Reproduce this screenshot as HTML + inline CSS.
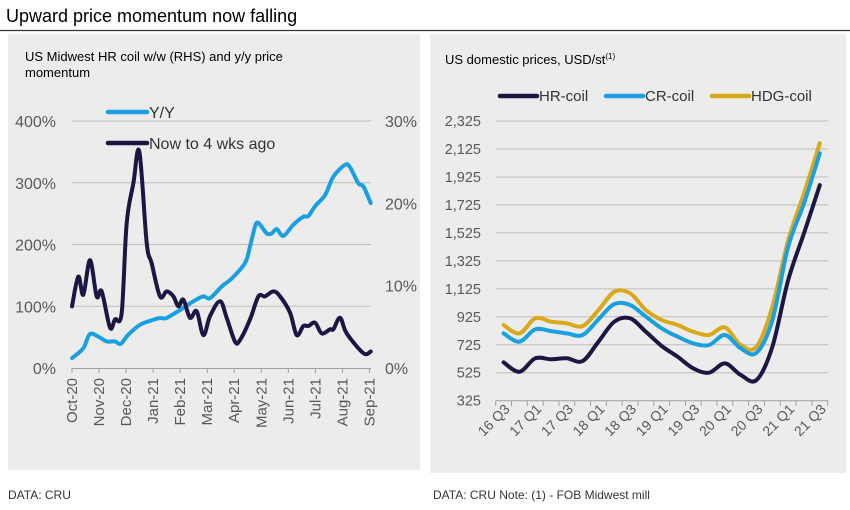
<!DOCTYPE html>
<html><head><meta charset="utf-8"><style>
body{margin:0;width:850px;height:510px;background:#fff;font-family:"Liberation Sans",sans-serif;overflow:hidden}
svg{position:absolute;left:0;top:0}
</style></head><body>
<svg width="850" height="510" id="svg">
<text x="6" y="22" font-size="18" fill="#000">Upward price momentum now falling</text>
<line x1="0" y1="30.5" x2="850" y2="30.5" stroke="#333" stroke-width="1.2"/>
<rect x="8" y="34" width="412" height="436" fill="#ececec"/>
<rect x="430" y="34" width="416" height="439" fill="#ececec"/>
<text x="25" y="61" font-size="13"><tspan x="25">US Midwest HR coil w/w (RHS) and y/y price</tspan><tspan x="25" dy="16">momentum</tspan></text>
<text x="445" y="64" font-size="13">US domestic prices, USD/st<tspan font-size="8" dy="-5">(1)</tspan></text>
<text x="8" y="499" font-size="12" fill="#333">DATA: CRU</text>
<text x="433" y="499" font-size="12" fill="#333">DATA: CRU  Note: (1) - FOB Midwest mill</text>
<g id="left"></g><g id="right"></g>
</svg>
<script>
// Left chart data (month index: 0=Oct-20 ... 11=Sep-21)
const monthLabels=["Oct-20","Nov-20","Dec-20","Jan-21","Feb-21","Mar-21","Apr-21","May-21","Jun-21","Jul-21","Aug-21","Sep-21"];
const leftTicks=[0,100,200,300,400];
const rightTicks=[0,10,20,30];
const yyX=[216,250,270,300,320,345,362,385,420,460,480,500,540,580,610,630,665,695,735,750,765,775,800,815,830,850,880,910,925,945,975,1000,1035,1050,1075,1090,1112].map(z=>(z-216)/81.1);
const yyVals=[16,32,55,49,43,43,39,54,70,78,81,81,94,108,116,113,132,145,170,197,229,235,218,218,225,214,232,245,246,262,280,310,329,325,299,294,267];
const wwX=[216,235,250,270,290,305,330,345,365,380,400,418,440,455,480,500,520,535,550,570,590,610,630,660,680,705,720,750,775,795,820,840,870,890,910,925,945,965,990,1000,1020,1040,1090,1112].map(z=>(z-216)/81.1);
const wwVals=[7.5,11.1,8.9,13.1,8.7,9.3,4.9,5.9,6.7,17.6,22.4,26.3,15.2,12.7,8.7,9.3,8.7,7.5,8.3,6.1,6.9,4.0,6.3,8.1,6.1,3.2,3.4,5.9,8.7,8.7,9.3,8.7,6.7,4.0,5.1,5.1,5.5,4.2,4.7,4.7,6.1,4.2,1.8,2.0];
// Right chart data
const quarters=["16 Q3","16 Q4","17 Q1","17 Q2","17 Q3","17 Q4","18 Q1","18 Q2","18 Q3","18 Q4","19 Q1","19 Q2","19 Q3","19 Q4","20 Q1","20 Q2","20 Q3","20 Q4","21 Q1","21 Q2","21 Q3"];
const priceTicks=[325,525,725,925,1125,1325,1525,1725,1925,2125,2325];
const hrVals=[599,532,628,621,628,609,747,890,914,818,716,640,556,525,592,509,473,711,1188,1522,1867];
const crVals=[806,747,835,823,806,795,907,1016,1009,926,842,783,735,723,795,699,668,902,1426,1736,2094];
const hdgVals=[866,806,914,890,878,859,973,1104,1093,973,902,866,818,795,849,723,711,997,1473,1807,2166];

const NS="http://www.w3.org/2000/svg";
function mk(parent,tag,attrs,text){const e=document.createElementNS(NS,tag);for(const k in attrs)e.setAttribute(k,attrs[k]);if(text!==undefined)e.textContent=text;parent.appendChild(e);return e;}
function smooth(pts){let d="M"+pts[0][0].toFixed(1)+","+pts[0][1].toFixed(1);for(let i=0;i<pts.length-1;i++){const p0=pts[i-1]||pts[i],p1=pts[i],p2=pts[i+1],p3=pts[i+2]||p2;const c1=[p1[0]+(p2[0]-p0[0])/6,p1[1]+(p2[1]-p0[1])/6],c2=[p2[0]-(p3[0]-p1[0])/6,p2[1]-(p3[1]-p1[1])/6];d+=`C${c1[0].toFixed(1)},${c1[1].toFixed(1)} ${c2[0].toFixed(1)},${c2[1].toFixed(1)} ${p2[0].toFixed(1)},${p2[1].toFixed(1)}`;}return d;}

// LEFT
const L=document.getElementById('left');
const lx=m=>72+m*27.04, ly=v=>368-v*0.6175, ry=v=>368-v*(247/30);
leftTicks.forEach(t=>{
 if(t>0){const g=mk(L,'line',{x1:72,x2:371,y1:ly(t),y2:ly(t),stroke:'#bdbdbd','stroke-width':1});
 
 }
 const tx=mk(L,'text',{x:56,y:ly(t)+6,'text-anchor':'end','font-size':16,fill:'#595959'},t+'%');
 
 
});
rightTicks.forEach(t=>{const tx=mk(L,'text',{x:385,y:ry(t)+6,'font-size':16,fill:'#595959'},t+'%');
 
 });
const ax=mk(L,'line',{x1:72,x2:371,y1:368.5,y2:368.5,stroke:'#a0a0a0','stroke-width':1});


monthLabels.forEach((m,i)=>{
 const tk=mk(L,'line',{x1:lx(i),x2:lx(i),y1:368,y2:373,stroke:'#a0a0a0'});
 
 
 const tx=mk(L,'text',{x:0,y:0,'text-anchor':'end','font-size':15,fill:'#595959',transform:`translate(${lx(i)+5},378) rotate(-90)`},m);
 
 
});
const p1=mk(L,'path',{d:smooth(yyX.map((m,i)=>[lx(m),ly(yyVals[i])])),fill:'none',stroke:'#1aa0e0','stroke-width':4,'stroke-linejoin':'round','stroke-linecap':'round'});


const p2=mk(L,'path',{d:smooth(wwX.map((m,i)=>[lx(m),ry(wwVals[i])])),fill:'none',stroke:'#1b1743','stroke-width':4,'stroke-linejoin':'round','stroke-linecap':'round'});


[["Y/Y","#1aa0e0",112],["Now to 4 wks ago","#1b1743",143]].forEach(([n,c,y])=>{
 const l=mk(L,'line',{x1:108,x2:147,y1:y,y2:y,stroke:c,'stroke-width':4.5,'stroke-linecap':'round'});
 
 
 const t=mk(L,'text',{x:149,y:y+6,'font-size':16,fill:'#333'},n);
 
 
});

// RIGHT
const R=document.getElementById('right');
const qx=i=>495.7+(i+0.5)*15.81, py=v=>400.7-(v-325)*(279.7/2000);
priceTicks.forEach(t=>{
 const g=mk(R,'line',{x1:495.7,x2:828,y1:py(t),y2:py(t),stroke:t==325?'#a0a0a0':'#bdbdbd','stroke-width':1});
 
 
 const tx=mk(R,'text',{x:481,y:py(t)+5,'text-anchor':'end','font-size':14.5,fill:'#595959'},t.toLocaleString('en-US'));
 
 
});
for(let i=0;i<=quarters.length;i++){const tk=mk(R,'line',{x1:495.7+i*15.81,x2:495.7+i*15.81,y1:400.7,y2:406,stroke:'#a0a0a0'});
 
 }
quarters.forEach((q,i)=>{if(i%2)return;
 const tx=mk(R,'text',{x:0,y:0,'text-anchor':'end','font-size':14,fill:'#595959',transform:`translate(${qx(i)+7},410) rotate(-45)`},q);
 
 });
[[hdgVals,'#d9a81b','hdg-line'],[crVals,'#1aa0e0','cr-line'],[hrVals,'#1b1743','hr-line']].forEach(([vals,c,n])=>{
 const p=mk(R,'path',{d:smooth(vals.map((v,i)=>[qx(i),py(v)])),fill:'none',stroke:c,'stroke-width':4,'stroke-linejoin':'round','stroke-linecap':'round'});
 
 
});
[["HR-coil","#1b1743",500],["CR-coil","#1aa0e0",606],["HDG-coil","#d9a81b",712]].forEach(([n,c,x])=>{
 const l=mk(R,'line',{x1:x,x2:x+37,y1:96,y2:96,stroke:c,'stroke-width':4.5,'stroke-linecap':'round'});
 
 
 const t=mk(R,'text',{x:x+39,y:101,'font-size':15,fill:'#333'},n);
 
 
});
</script>
</body></html>
